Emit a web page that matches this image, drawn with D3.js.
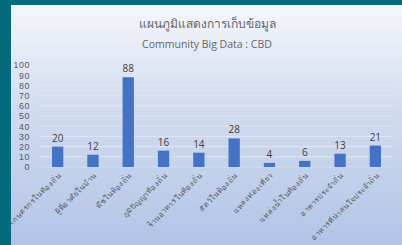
<!DOCTYPE html>
<html>
<head>
<meta charset="utf-8">
<script src="https://cdn.jsdelivr.net/npm/d3@7"></script>
<style>
  body { margin: 0; background: #066a7d; }
  svg { display: block; }
</style>
</head>
<body>
<div id="plot_area"></div>
<script>
// Chart size
const w = 402;
const h = 245;

// Data
const categories = [
  'เกษตรกรในท้องถิ่น',
  'ผู้ที่อาศัยในบ้าน',
  'พืชในท้องถิ่น',
  'ภูมิปัญญาท้องถิ่น',
  'ร้านอาหารในท้องถิ่น',
  'สัตว์ในท้องถิ่น',
  'แหล่งท่องเที่ยว',
  'แหล่งน้ำในท้องถิ่น',
  'อาหารประจำถิ่น',
  'อาหารที่น่าสนใจประจำถิ่น'
];
const values = [20, 12, 88, 16, 14, 28, 4, 6, 13, 21];
const yTicks = [0, 10, 20, 30, 40, 50, 60, 70, 80, 90, 100];
const titleText = 'แผนภูมิแสดงการเก็บข้อมูล';
const subtitleText = 'Community Big Data : CBD';

const svg = d3.select('#plot_area')
  .append('svg')
  .attr('width', w)
  .attr('height', h);

// Background gradient
const grad = svg.append('defs').append('linearGradient')
  .attr('id', 'bg')
  .attr('x1', 0).attr('y1', 0).attr('x2', 0).attr('y2', 1);
grad.append('stop').attr('offset', '0%').attr('stop-color', '#f4f6fb');
grad.append('stop').attr('offset', '45%').attr('stop-color', '#d0dbef');
grad.append('stop').attr('offset', '100%').attr('stop-color', '#b1c4e7');

svg.append('rect')
  .attr('x', 0).attr('y', 0)
  .attr('width', w).attr('height', h)
  .attr('fill', '#066a7d');

svg.append('rect')
  .attr('x', 11).attr('y', 5)
  .attr('width', w - 11).attr('height', h - 5)
  .attr('fill', 'url(#bg)');

// Scales
const xScale = d3.scaleBand()
  .domain(categories)
  .range([40, 393])
  .paddingInner(0.68)
  .paddingOuter(0.34);

const yScale = d3.scaleLinear()
  .domain([0, 100])
  .range([167, 65]);

// Gridlines
svg.append('g')
  .selectAll('line')
  .data(yTicks)
  .enter()
  .append('line')
  .attr('x1', 40)
  .attr('x2', 393)
  .attr('y1', (d) => yScale(d))
  .attr('y2', (d) => yScale(d))
  .attr('stroke', (d) => d === 0 ? '#d6dce8' : '#e2e7f0')
  .attr('stroke-width', 1);

// Y axis
const yAxis = svg.append('g')
  .attr('transform', 'translate(32,0)')
  .call(d3.axisLeft(yScale).tickValues(yTicks).tickSize(0).tickPadding(2));
yAxis.select('.domain').remove();
yAxis.selectAll('text')
  .style('font-family', 'Liberation Sans, sans-serif')
  .style('font-size', '8.8px')
  .style('letter-spacing', '0.6px')
  .attr('fill', '#595959');

// Bars
svg.selectAll('.bar')
  .data(values)
  .enter()
  .append('rect')
  .attr('class', 'bar')
  .attr('x', (d, i) => xScale(categories[i]))
  .attr('y', (d) => yScale(d))
  .attr('width', xScale.bandwidth())
  .attr('height', (d) => yScale(0) - yScale(d))
  .attr('fill', '#4472c4');

// Value labels
svg.selectAll('.val')
  .data(values)
  .enter()
  .append('text')
  .attr('class', 'val')
  .attr('x', (d, i) => xScale(categories[i]) + xScale.bandwidth() / 2)
  .attr('y', (d) => yScale(d) - 5)
  .attr('text-anchor', 'middle')
  .style('font-family', 'Open Sans, sans-serif')
  .style('font-size', '10px')
  .attr('fill', '#404040')
  .text((d) => d);

// X labels, rotated
svg.selectAll('.xl')
  .data(categories)
  .enter()
  .append('text')
  .attr('class', 'xl')
  .attr('text-anchor', 'end')
  .attr('transform', (d) => 'translate(' + (xScale(d) + xScale.bandwidth() / 2 + 4) + ',176)rotate(-45)')
  .style('font-family', 'Noto Sans, sans-serif')
  .style('font-size', '7.5px')
  .style('letter-spacing', '0.4px')
  .attr('fill', '#595959')
  .text((d) => d);

// Titles
svg.append('text')
  .attr('x', 207)
  .attr('y', 28)
  .attr('text-anchor', 'middle')
  .style('font-family', 'Noto Sans, sans-serif')
  .style('font-size', '12px')
  .attr('fill', '#666666')
  .text(titleText);

svg.append('text')
  .attr('x', 207)
  .attr('y', 48)
  .attr('text-anchor', 'middle')
  .style('font-family', 'Open Sans, sans-serif')
  .style('font-size', '10.5px')
  .attr('fill', '#666666')
  .text(subtitleText);
</script>
</body>
</html>
